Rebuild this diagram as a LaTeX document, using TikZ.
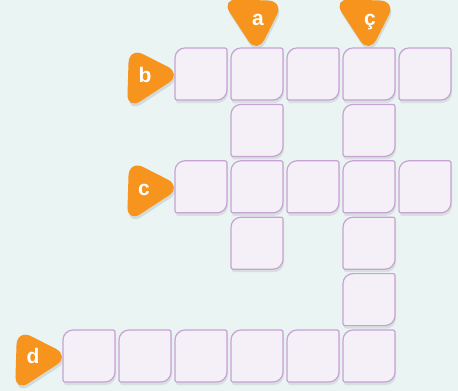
\documentclass[tikz,border=0pt]{standalone}
\usepackage{fontspec}
\setmainfont{Liberation Sans}
\usetikzlibrary{shadows}
\definecolor{bgmint}{HTML}{EAF4F3}
\definecolor{cellfill}{HTML}{F5F0F8}
\definecolor{celledge}{HTML}{C6A3D3}
\definecolor{tagorange}{HTML}{F7941E}
\tikzset{
  cell/.style   ={fill=cellfill, draw=celledge, line width=1.2pt,
                  drop shadow={shadow xshift=1pt, shadow yshift=-3pt,
                  opacity=0.08, fill=black}},
  tagshape/.style={fill=tagorange, rounded corners=16pt,
                  drop shadow={shadow xshift=1pt, shadow yshift=-3pt,
                  opacity=0.10, fill=black}},
  taglbl/.style ={font=\bfseries\fontsize{21}{21}\selectfont, text=white,
                  inner sep=0pt, anchor=base},
  cellbox/.pic  ={\path[cell] (0,-10) arc[start angle=180, end angle=90, radius=10pt]
                  -- (50,0) arc[start angle=90, end angle=0, radius=2pt]
                  -- (52,-42) arc[start angle=0, end angle=-90, radius=10pt]
                  -- (2,-52) arc[start angle=270, end angle=180, radius=2pt] -- cycle;},
  tag/.pic      ={\path[tagshape] (-47,-5) -- (-46,27) -- (7,0) -- (-48,-36) -- cycle;},
}

\begin{document}
\begin{tikzpicture}[x=1pt, y=1pt]
\fill[bgmint] (0,0) rectangle (458,-391);
\useasboundingbox (0,0) rectangle (458,-391);
% arrows for the clues
\pic[rotate=-90] at (257,-47) {tag};
\pic[rotate=-90] at (369,-47) {tag};
\pic at (175,-74)    {tag};
\pic at (175,-186.8) {tag};
\pic at (63,-356)    {tag};
\node[taglbl] (taga)  at (258,-25) {a};
\node[taglbl] (tagcc) at (370,-25) {ç};
\node[taglbl] (tagb)  at (145,-82) {b};
\node[taglbl] (tagc)  at (144,-195) {c};
\node[taglbl] (tagd)  at (33,-363) {d};
% grid cells, column/row
\foreach \c/\r in {2/0,3/0,4/0,5/0,6/0, 3/1,5/1, 2/2,3/2,4/2,5/2,6/2,
                   3/3,5/3, 5/4, 0/5,1/5,2/5,3/5,4/5,5/5}
  \pic at ({63+56*\c},{-48-56.4*\r}) {cellbox};
\end{tikzpicture}
\end{document}
